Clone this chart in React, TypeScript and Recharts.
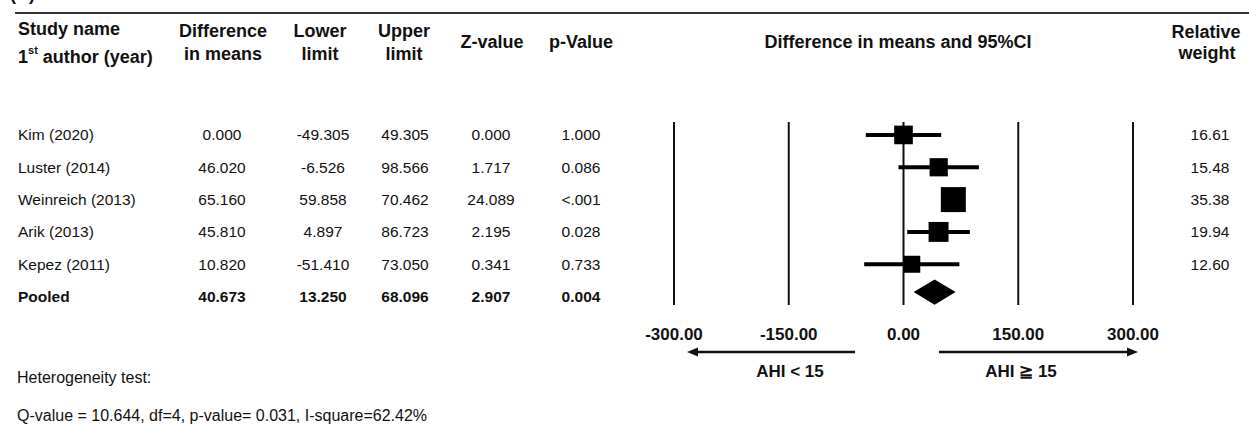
import React from 'react'
import {
  ComposedChart,
  Scatter,
  Area,
  ErrorBar,
  XAxis,
  YAxis,
  ZAxis,
  ReferenceLine,
} from 'recharts'

const studies = ['Kim (2020)', 'Luster (2014)', 'Weinreich (2013)', 'Arik (2013)', 'Kepez (2011)']
const diffMeans = [0.0, 46.02, 65.16, 45.81, 10.82]
const lowerLimits = [-49.305, -6.526, 59.858, 4.897, -51.41]
const upperLimits = [49.305, 98.566, 70.462, 86.723, 73.05]
const zValues = [0.0, 1.717, 24.089, 2.195, 0.341]
const pValues = ['1.000', '0.086', '<.001', '0.028', '0.733']
const weights = [16.61, 15.48, 35.38, 19.94, 12.6]

const pooledLabel = 'Pooled'
const pooledDiff = 40.673
const pooledLower = 13.25
const pooledUpper = 68.096
const pooledZ = 2.907
const pooledP = '0.004'

const xTicks = [-300, -150, 0, 150, 300]
const rowTicks = [0, 1, 2, 3, 4, 5]

const FONT = '"Liberation Sans", Arial, Helvetica, sans-serif'
const W = 1249
const H = 425

// table rows: the five studies, then the pooled estimate
const tableRows = [
  ...studies.map((name, i) => ({
    name,
    diff: diffMeans[i].toFixed(3),
    lower: lowerLimits[i].toFixed(3),
    upper: upperLimits[i].toFixed(3),
    z: zValues[i].toFixed(3),
    p: pValues[i],
    weight: weights[i].toFixed(2),
    bold: false,
  })),
  {
    name: pooledLabel,
    diff: pooledDiff.toFixed(3),
    lower: pooledLower.toFixed(3),
    upper: pooledUpper.toFixed(3),
    z: pooledZ.toFixed(3),
    p: pooledP,
    weight: '',
    bold: true,
  },
]

const studyPoints = studies.map((_, i) => ({
  x: diffMeans[i],
  y: i,
  weight: weights[i],
  err: [diffMeans[i] - lowerLimits[i], upperLimits[i] - diffMeans[i]],
}))

// pooled diamond as a range area: pointed at the limits, widest at the mean
const DIAMOND_ROW = 4.86
const DIAMOND_HALF = 0.39
const pooledDiamond = [
  { x: pooledLower, band: [DIAMOND_ROW, DIAMOND_ROW] },
  { x: pooledDiff, band: [DIAMOND_ROW - DIAMOND_HALF, DIAMOND_ROW + DIAMOND_HALF] },
  { x: pooledUpper, band: [DIAMOND_ROW, DIAMOND_ROW] },
]

const columns = [
  { key: 'name', x: 18, anchor: 'start' },
  { key: 'diff', x: 222, anchor: 'middle' },
  { key: 'lower', x: 323, anchor: 'middle' },
  { key: 'upper', x: 405, anchor: 'middle' },
  { key: 'z', x: 491, anchor: 'middle' },
  { key: 'p', x: 581, anchor: 'middle' },
  { key: 'weight', x: 1210, anchor: 'middle' },
] as const

function RowTick(props: any) {
  const { y, payload } = props
  const row = tableRows[payload.value]
  if (!row) return null
  return (
    <g>
      {columns.map((c) => (
        <text
          key={c.key}
          x={c.x}
          y={y}
          textAnchor={c.anchor}
          dominantBaseline="central"
          fontFamily={FONT}
          fontSize={15.5}
          fontWeight={row.bold ? 700 : 400}
          fill="#111"
        >
          {(row as any)[c.key]}
        </text>
      ))}
    </g>
  )
}

function XTick(props: any) {
  const { x, y, payload } = props
  return (
    <text
      x={x}
      y={y + 29}
      textAnchor="middle"
      dominantBaseline="central"
      fontFamily={FONT}
      fontSize={17}
      fontWeight={700}
      fill="#111"
    >
      {Number(payload.value).toFixed(2)}
    </text>
  )
}

const headStyle = { fontFamily: FONT, fontSize: 18, fontWeight: 700, fill: '#111' } as const

function Decorations() {
  return (
    <svg
      width={W}
      height={H}
      style={{ position: 'absolute', left: 0, top: 0, pointerEvents: 'none' }}
    >
      <text x={10} y={0} {...headStyle}>(B)</text>
      <line x1={15} y1={13} x2={W} y2={13} stroke="#333" strokeWidth={2} />

      <text x={18} y={29} dominantBaseline="central" {...headStyle}>Study name</text>
      <text x={18} y={57} dominantBaseline="central" {...headStyle}>
        1<tspan fontSize={11} dy={-7}>st</tspan>
        <tspan dy={7}> author (year)</tspan>
      </text>

      <text x={223} y={31} textAnchor="middle" dominantBaseline="central" {...headStyle}>Difference</text>
      <text x={223} y={54} textAnchor="middle" dominantBaseline="central" {...headStyle}>in means</text>
      <text x={320} y={31} textAnchor="middle" dominantBaseline="central" {...headStyle}>Lower</text>
      <text x={320} y={54} textAnchor="middle" dominantBaseline="central" {...headStyle}>limit</text>
      <text x={404} y={31} textAnchor="middle" dominantBaseline="central" {...headStyle}>Upper</text>
      <text x={404} y={54} textAnchor="middle" dominantBaseline="central" {...headStyle}>limit</text>
      <text x={492} y={42} textAnchor="middle" dominantBaseline="central" {...headStyle}>Z-value</text>
      <text x={581} y={42} textAnchor="middle" dominantBaseline="central" {...headStyle}>p-Value</text>
      <text x={898} y={42} textAnchor="middle" dominantBaseline="central" {...headStyle}>
        Difference in means and 95%CI
      </text>
      <text x={1206} y={32} textAnchor="middle" dominantBaseline="central" {...headStyle}>Relative</text>
      <text x={1207} y={53} textAnchor="middle" dominantBaseline="central" {...headStyle}>weight</text>

      {/* direction arrows under the axis */}
      <line x1={855} y1={352} x2={696} y2={352} stroke="#111" strokeWidth={2.5} />
      <polygon points="687,352 698,347.5 698,356.5" fill="#111" />
      <line x1={939} y1={352} x2={1128} y2={352} stroke="#111" strokeWidth={2.5} />
      <polygon points="1138,352 1127,347.5 1127,356.5" fill="#111" />
      <text x={790} y={371} textAnchor="middle" dominantBaseline="central" fontFamily={FONT} fontSize={17} fontWeight={700} fill="#111">
        AHI &lt; 15
      </text>
      <text x={1021} y={371} textAnchor="middle" dominantBaseline="central" fontFamily={FONT} fontSize={17} fontWeight={700} fill="#111">
        AHI ≧ 15
      </text>

      <text x={17} y={377} dominantBaseline="central" fontFamily={FONT} fontSize={16} fill="#111">
        Heterogeneity test:
      </text>
      <text x={17} y={415} dominantBaseline="central" fontFamily={FONT} fontSize={16} fill="#111">
        Q-value = 10.644, df=4, p-value= 0.031, I-square=62.42%
      </text>
    </svg>
  )
}

export default function App() {
  return (
    <div style={{ position: 'relative', width: W, height: H, background: '#fff' }}>
      <style>{'body{margin:0}'}</style>
      <ComposedChart
        width={W}
        height={H}
        margin={{ top: 122, right: 116, bottom: 90, left: 673 }}
        style={{ position: 'absolute', left: 0, top: 0 }}
      >
        <XAxis
          type="number"
          dataKey="x"
          domain={[-300, 300]}
          ticks={xTicks}
          interval={0}
          allowDataOverflow
          axisLine={false}
          tickLine={false}
          tickSize={0}
          tickMargin={0}
          height={30}
          tick={<XTick />}
        />
        <YAxis
          type="number"
          dataKey="y"
          domain={[-0.4, 5.26]}
          reversed
          allowDataOverflow
          ticks={rowTicks}
          interval={0}
          width={1}
          axisLine={false}
          tickLine={false}
          tick={<RowTick />}
        />
        <ZAxis type="number" dataKey="weight" domain={[0, 40]} range={[103, 693]} />
        {xTicks.map((t) => (
          <ReferenceLine key={t} x={t} stroke="#111" strokeWidth={2} />
        ))}
        <Area
          data={pooledDiamond}
          dataKey="band"
          type="linear"
          stroke="none"
          fill="#000"
          fillOpacity={1}
          dot={false}
          activeDot={false}
          isAnimationActive={false}
        />
        <Scatter data={studyPoints} shape="square" fill="#000" isAnimationActive={false}>
          <ErrorBar dataKey="err" direction="x" width={0} strokeWidth={4} stroke="#000" />
        </Scatter>
      </ComposedChart>
      <Decorations />
    </div>
  )
}
